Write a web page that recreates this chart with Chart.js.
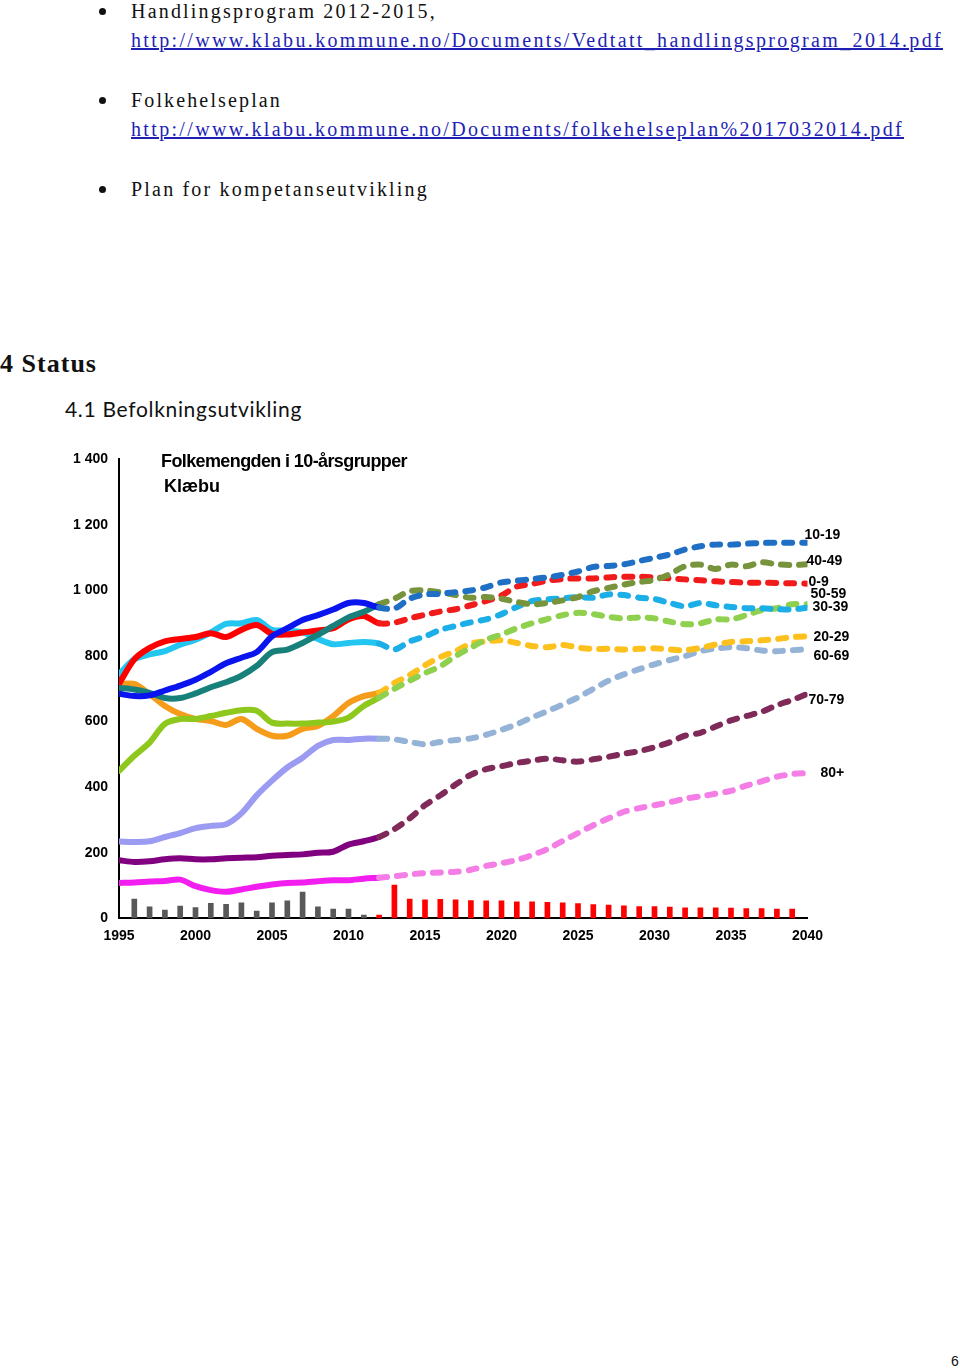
<!DOCTYPE html>
<html lang="no">
<head>
<meta charset="utf-8">
<title>Folkemengden i 10-årsgrupper - Klæbu</title>
<script src="https://cdn.jsdelivr.net/npm/chart.js@4.4.1/dist/chart.umd.min.js"></script>
<style>
  html, body { margin: 0; padding: 0; background: #fff; }
  #page { position: relative; width: 960px; height: 1369px; overflow: hidden; }
  .t { position: absolute; white-space: nowrap; line-height: 1; }
  .serif { font-family: "Liberation Serif", "Times New Roman", serif; font-size: 20px; color: #111; }
  .link { color: #1f1fb4; text-decoration: underline; }
  .dot { position: absolute; width: 7px; height: 7px; border-radius: 50%; background: #111; }
  .h1 { font-family: "Liberation Serif", serif; font-weight: bold; font-size: 26px; color: #111; }
  .h2 { font-family: Lato, "Open Sans", sans-serif; font-size: 21px; color: #111; }
  .ctitle { font-family: "Liberation Sans", Arial, sans-serif; font-weight: bold; font-size: 18px; color: #000; z-index: 2; }
  #chartBox { position: absolute; left: 60px; top: 440px; width: 820px; height: 520px; }
</style>
</head>
<body>
<div id="page">
  <div class="dot" style="left:99px; top:8px;"></div>
  <div class="t serif" style="left:131px; top:1px;" data-w="306">Handlingsprogram 2012-2015,</div>
  <div class="t serif link" style="left:131px; top:30px;" data-w="812">http://www.klabu.kommune.no/Documents/Vedtatt_handlingsprogram_2014.pdf</div>

  <div class="dot" style="left:99px; top:97px;"></div>
  <div class="t serif" style="left:131px; top:90px;" data-w="151">Folkehelseplan</div>
  <div class="t serif link" style="left:131px; top:119px;" data-w="773">http://www.klabu.kommune.no/Documents/folkehelseplan%2017032014.pdf</div>

  <div class="dot" style="left:99px; top:186px;"></div>
  <div class="t serif" style="left:131px; top:179px;" data-w="298">Plan for kompetanseutvikling</div>

  <div class="t h1" style="left:0px; top:351px;" data-w="97">4 Status</div>
  <div class="t h2" style="left:65px; top:398px;" data-w="237">4.1 Befolkningsutvikling</div>

  <div class="t ctitle" style="left:161px; top:452px;" data-w="246">Folkemengden i 10-årsgrupper</div>
  <div class="t ctitle" style="left:164px; top:477px;" data-w="56">Klæbu</div>

  <div id="chartBox"><canvas id="popChart"></canvas></div>

  <div class="t" style="left:951px; top:1354px; font-family:'Liberation Sans',Arial,sans-serif; font-size:14px; color:#111;">6</div>
</div>

<script>
// år 1995-2040, registrert t.o.m. 2012, framskrevet etter det
const years = [1995, 1996, 1997, 1998, 1999, 2000, 2001, 2002, 2003, 2004,
  2005, 2006, 2007, 2008, 2009, 2010, 2011, 2012, 2013, 2014,
  2015, 2016, 2017, 2018, 2019, 2020, 2021, 2022, 2023, 2024,
  2025, 2026, 2027, 2028, 2029, 2030, 2031, 2032, 2033, 2034,
  2035, 2036, 2037, 2038, 2039, 2040];
const splitYear = 2012;

const age0_9 = [715, 790, 825, 845, 852, 858, 870, 858, 880, 895, 868, 866, 872, 878, 885, 912, 922, 900,
  902, 915, 926, 936, 943, 955, 968, 985, 1012, 1020, 1030, 1035, 1037, 1037, 1040, 1042, 1042, 1040, 1037, 1034, 1031, 1028, 1026, 1024, 1024, 1023, 1022, 1021];
const age10_19 = [685, 678, 680, 695, 710, 728, 752, 778, 795, 812, 860, 885, 910, 925, 942, 962, 962, 948,
  945, 975, 988, 990, 995, 1000, 1010, 1025, 1030, 1035, 1040, 1048, 1058, 1072, 1075, 1080, 1090, 1100, 1110, 1125, 1135, 1140, 1140, 1143, 1145, 1146, 1146, 1146];
const age20_29 = [715, 715, 684, 648, 623, 608, 602, 590, 608, 578, 557, 557, 578, 587, 617, 657, 678, 688,
  718, 742, 772, 797, 815, 838, 845, 848, 840, 831, 827, 834, 826, 822, 822, 820, 822, 824, 820, 818, 825, 835, 843, 845, 848, 852, 858, 860];
const age30_39 = [450, 496, 536, 593, 608, 608, 617, 627, 635, 633, 597, 594, 594, 597, 600, 612, 648, 673,
  700, 725, 748, 769, 800, 826, 850, 866, 885, 900, 913, 925, 932, 928, 920, 915, 918, 915, 905, 897, 900, 912, 912, 925, 940, 946, 958, 958];
const age40_49 = [703, 698, 688, 672, 672, 686, 705, 720, 740, 770, 812, 820, 840, 865, 892, 918, 935, 958,
  975, 998, 1000, 995, 986, 978, 980, 975, 965, 958, 962, 970, 980, 998, 1008, 1018, 1026, 1032, 1050, 1074, 1079, 1066, 1079, 1074, 1086, 1080, 1078, 1080];
const age50_59 = [745, 790, 805, 815, 835, 850, 872, 898, 900, 910, 880, 878, 872, 852, 836, 840, 843, 838,
  820, 845, 860, 880, 892, 903, 912, 928, 950, 968, 973, 976, 980, 978, 988, 986, 978, 974, 962, 952, 962, 955, 950, 946, 946, 943, 942, 948];
const age60_69 = [234, 233, 235, 248, 260, 275, 282, 287, 320, 375, 420, 460, 490, 526, 544, 544, 548, 548,
  546, 538, 531, 538, 544, 549, 560, 575, 592, 613, 632, 652, 674, 700, 725, 744, 760, 775, 788, 800, 815, 823, 827, 824, 817, 815, 818, 821];
const age70_79 = [177, 172, 174, 180, 183, 180, 180, 183, 185, 186, 191, 193, 195, 200, 203, 225, 235, 248,
  272, 305, 345, 375, 408, 438, 455, 464, 474, 481, 487, 482, 478, 485, 493, 502, 510, 522, 537, 557, 566, 585, 604, 617, 630, 650, 666, 685];
const age80 = [108, 109, 112, 114, 118, 98, 86, 81, 88, 96, 103, 108, 109, 113, 116, 116, 121, 124,
  128, 134, 138, 140, 142, 148, 160, 168, 178, 193, 211, 236, 260, 284, 305, 325, 336, 345, 354, 365, 372, 380, 389, 405, 418, 432, 440, 443];

// årlig vekst (søyler), null der det ikke er søyle
const netGrowth = [null, 59, 35, 25, 37, 33, 46, 43, 47, 22, 47, 53, 80, 35, 28, 28, 10,
  10, 101, 59, 56, 58, 56, 54, 53, 53, 50, 50, 49, 47, 45, 42, 40, 38, 36, 36, 34, 32, 32, 32, 31, 30, 30, 28, 28, null];

const yTicks = [0, 200, 400, 600, 800, 1000, 1200, 1400];

// gruppe, data, farge registrert, farge framskrevet, etikett-forskyvning (px)
const groups = [
  { label: '10-19', data: age10_19, hist: '#0a14ee', proj: '#1f6fc4', dx: -3, dy: -8 },
  { label: '40-49', data: age40_49, hist: '#17807a', proj: '#77933c', dx: -1, dy: -3 },
  { label: '0-9', data: age0_9, hist: '#ff0000', proj: '#f21b1b', dx: 1, dy: -1 },
  { label: '50-59', data: age50_59, hist: '#22c6f0', proj: '#1caee6', dx: 3, dy: -13 },
  { label: '30-39', data: age30_39, hist: '#8fc81c', proj: '#8fd04e', dx: 5, dy: 3 },
  { label: '20-29', data: age20_29, hist: '#f59c1a', proj: '#fdc01c', dx: 6, dy: 1 },
  { label: '60-69', data: age60_69, hist: '#9b9bf2', proj: '#95b3d7', dx: 6, dy: 7 },
  { label: '70-79', data: age70_79, hist: '#800080', proj: '#802a5a', dx: 1, dy: 6 },
  { label: '80+', data: age80, hist: '#f21ef0', proj: '#f47ee6', dx: 13, dy: 0 }
];

function fitTexts() {
  document.querySelectorAll('[data-w]').forEach(el => {
    el.style.letterSpacing = '0px';
    const natural = el.getBoundingClientRect().width;
    const target = parseFloat(el.dataset.w);
    el.style.letterSpacing = ((target - natural) / el.textContent.length) + 'px';
  });
}

const endLabels = {
  id: 'endLabels',
  afterDatasetsDraw(chart) {
    const c = chart.ctx;
    c.save();
    c.font = 'bold 14px "Liberation Sans", Arial, sans-serif';
    c.fillStyle = '#000';
    c.textBaseline = 'middle';
    c.textAlign = 'left';
    groups.forEach((g, i) => {
      const meta = chart.getDatasetMeta(i);
      const last = meta.data[meta.data.length - 1];
      c.fillText(g.label, last.x + g.dx, last.y + g.dy);
    });
    c.restore();
  }
};

document.addEventListener('DOMContentLoaded', () => {
  fitTexts();
  if (document.fonts) document.fonts.ready.then(fitTexts);

  const lineSets = groups.map(g => ({
    type: 'line',
    label: g.label,
    data: years.map((yr, i) => ({ x: yr, y: g.data[i] })),
    borderColor: g.hist,
    borderWidth: 6,
    borderCapStyle: 'round',
    borderJoinStyle: 'round',
    pointRadius: 0,
    tension: 0.3,
    order: 1,
    segment: {
      borderColor: s => s.p0.parsed.x >= splitYear ? g.proj : g.hist,
      borderDash: s => s.p0.parsed.x >= splitYear ? [8, 10] : []
    }
  }));

  const barSet = {
    type: 'bar',
    label: 'Vekst',
    data: years.map((yr, i) => ({ x: yr, y: netGrowth[i] })),
    backgroundColor: years.map(yr => yr < splitYear ? '#595959' : '#ff0000'),
    barThickness: 5,
    grouped: false,
    order: 10
  };

  const ctx = document.getElementById('popChart').getContext('2d');
  const popChart = new Chart(ctx, {
    data: { datasets: [...lineSets, barSet] },
    options: {
      responsive: true,
      maintainAspectRatio: false,
      animation: false,
      layout: { padding: { top: 17.5, right: 72.5, left: 0, bottom: 0 } },
      plugins: { legend: { display: false }, tooltip: { enabled: false } },
      scales: {
        x: {
          type: 'linear',
          min: 1995,
          max: 2040,
          offset: false,
          grid: { display: false, drawTicks: false },
          border: { display: true, color: '#000', width: 2 },
          ticks: {
            stepSize: 5,
            autoSkip: false,
            maxRotation: 0,
            padding: 9,
            color: '#000',
            font: { family: '"Liberation Sans", Arial, sans-serif', size: 14, weight: 'bold' },
            callback: v => String(v)
          },
          afterFit: s => { s.height = 41.7; }
        },
        y: {
          min: 0,
          max: 1400,
          grid: { display: false, drawTicks: false },
          border: { display: true, color: '#000', width: 2 },
          afterBuildTicks: s => { s.ticks = yTicks.map(v => ({ value: v })); },
          ticks: {
            padding: 11,
            color: '#000',
            font: { family: '"Liberation Sans", Arial, sans-serif', size: 14, weight: 'bold' },
            callback: v => v >= 1000 ? Math.floor(v / 1000) + ' ' + String(v % 1000).padStart(3, '0') : String(v)
          },
          afterFit: s => { s.width = 59; }
        }
      }
    },
    plugins: [endLabels]
  });
});
</script>
</body>
</html>
